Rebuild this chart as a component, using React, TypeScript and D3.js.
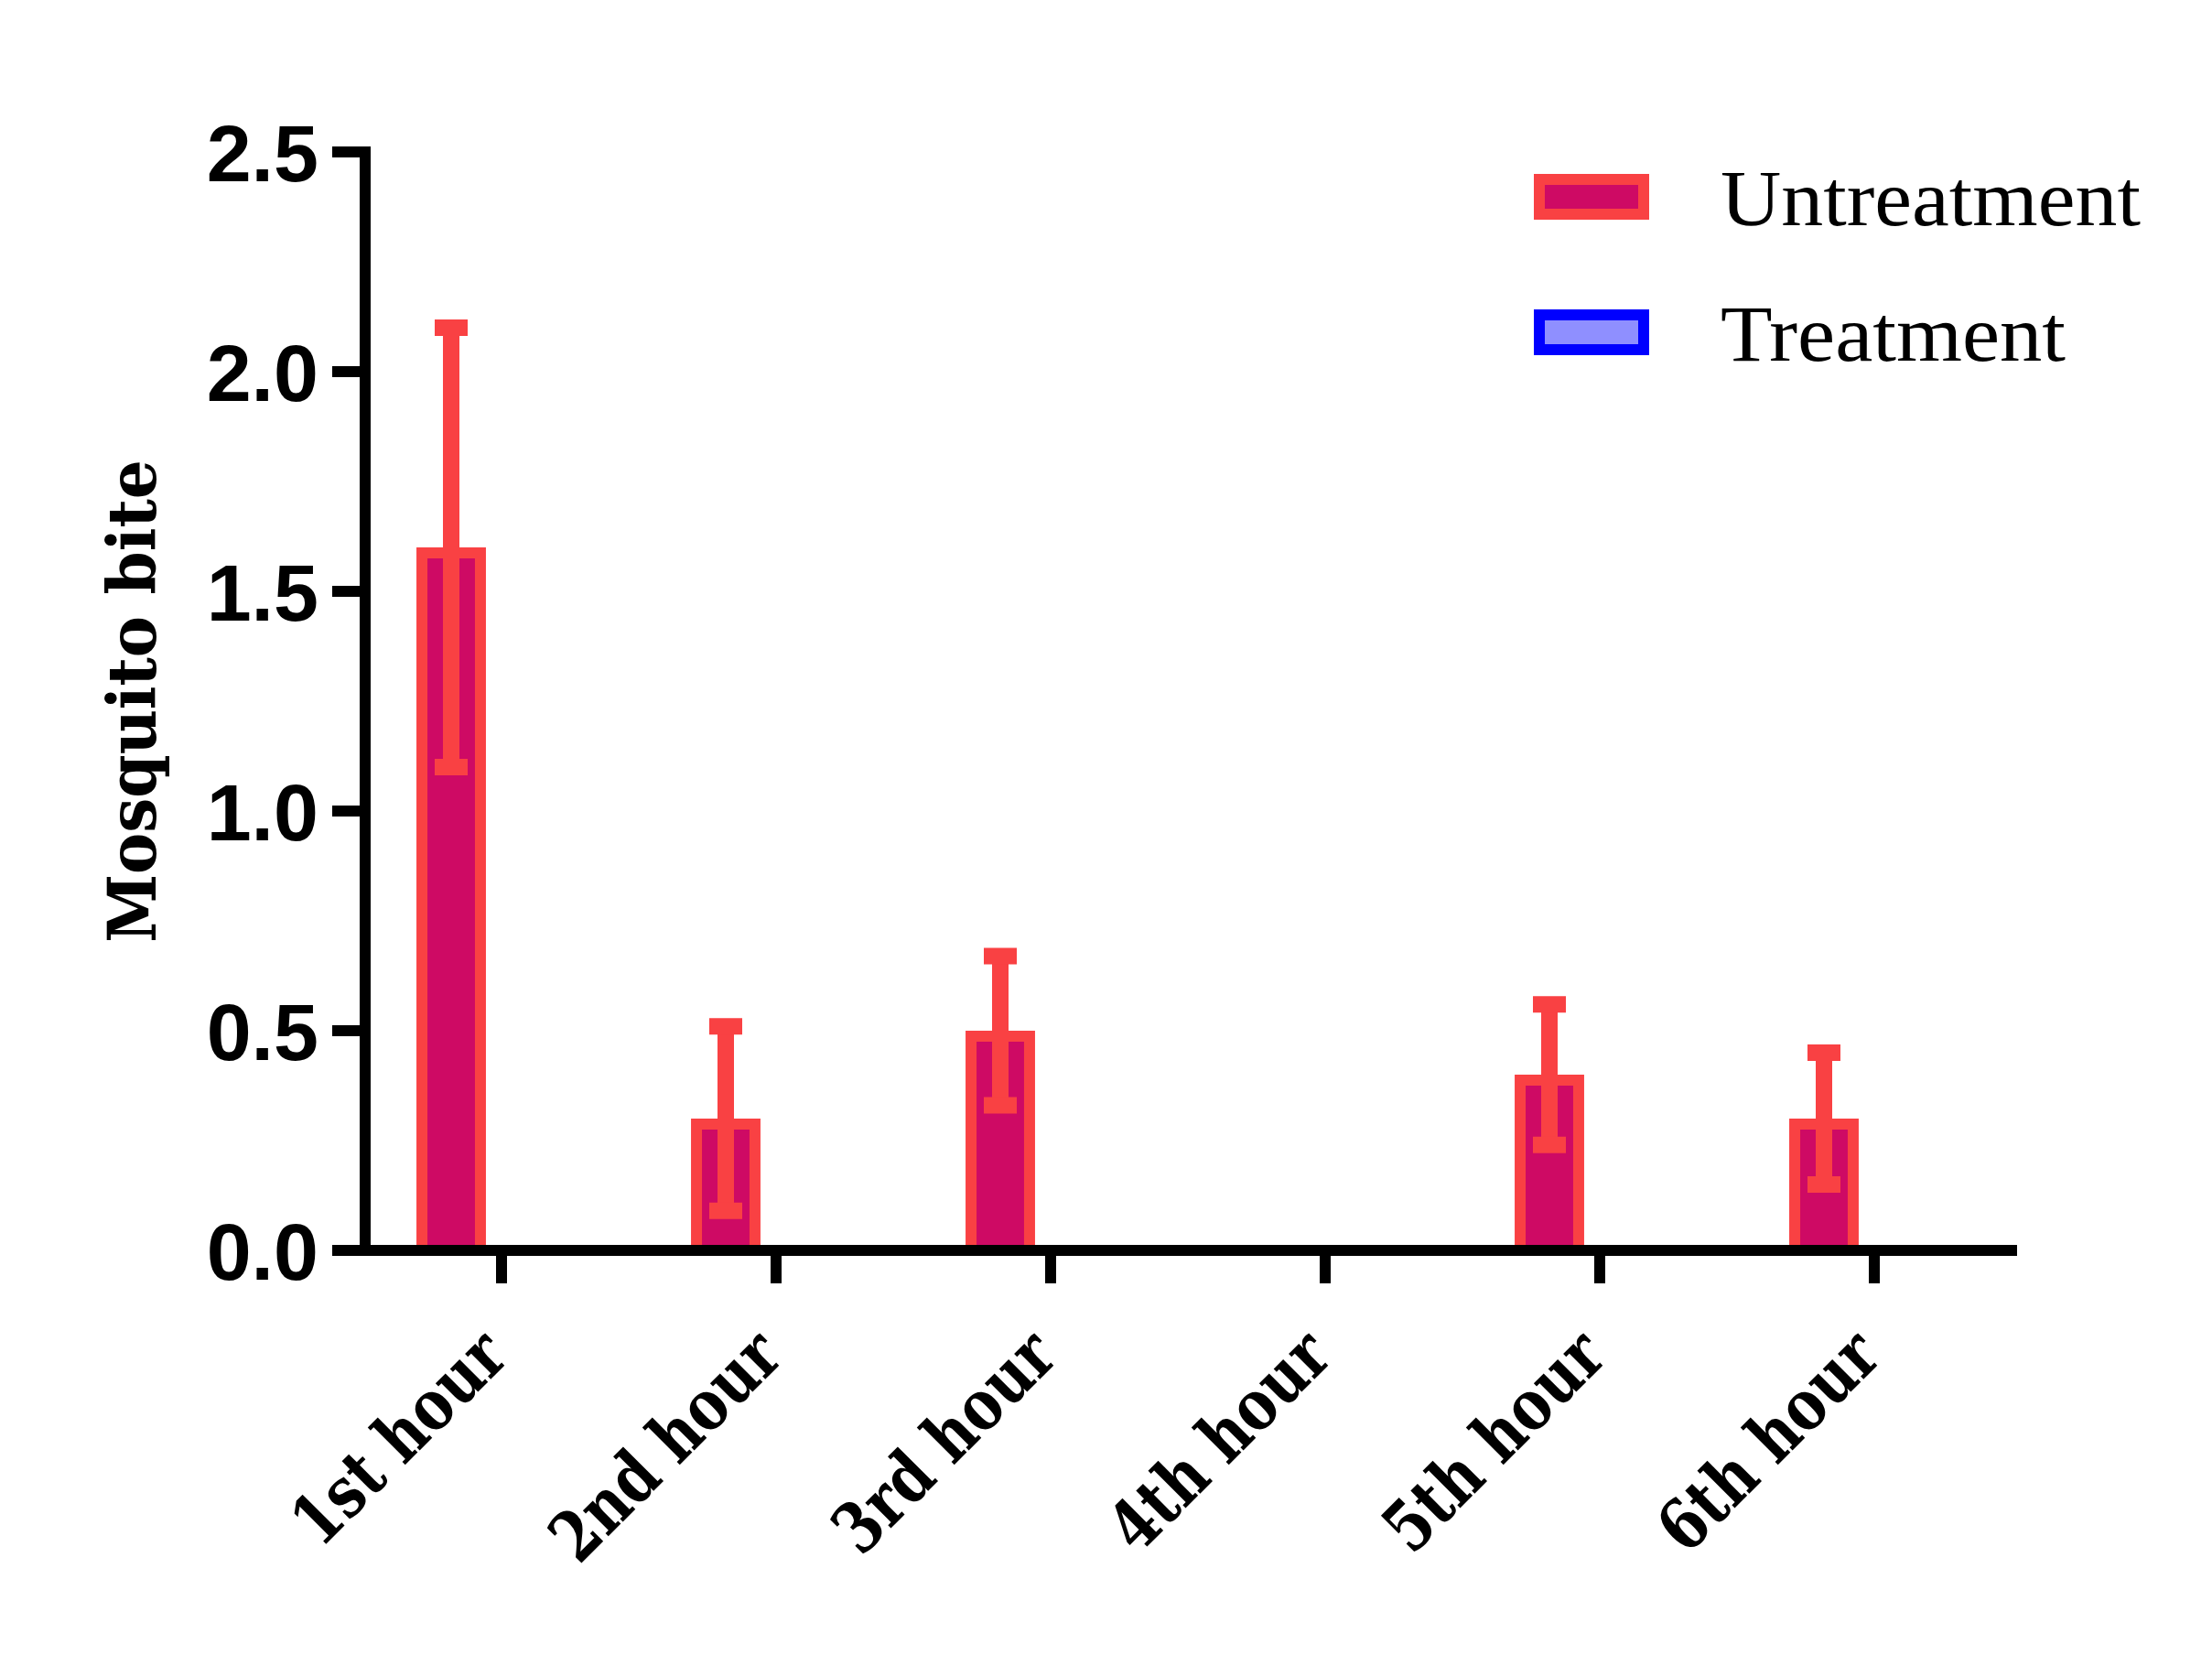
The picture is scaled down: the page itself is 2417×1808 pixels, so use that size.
import { useEffect, useRef } from 'react';
import * as d3 from 'd3';

const categories = ['1st hour', '2nd hour', '3rd hour', '4th hour', '5th hour', '6th hour'];
const seriesNames = ['Untreatment', 'Treatment'];
const untreatment = [1.6, 0.3, 0.5, 0, 0.4, 0.3];
const untreatmentErr = [0.5, 0.21, 0.17, 0, 0.16, 0.15];
const treatment = [0, 0, 0, 0, 0, 0];
const treatmentErr = [0, 0, 0, 0, 0, 0];
const yTicks = [0, 0.5, 1.0, 1.5, 2.0, 2.5];

const W = 2417;
const H = 1808;

const colors: Record<string, { fill: string; stroke: string }> = {
  Untreatment: { fill: '#ce0a64', stroke: '#f94143' },
  Treatment: { fill: '#8f8fff', stroke: '#0000ff' },
};

export default function App() {
  const svgRef = useRef<SVGSVGElement>(null);

  useEffect(() => {
    document.body.style.margin = '0';
    if (!svgRef.current) return;
    const svg = d3.select(svgRef.current);
    svg.selectAll('*').remove();

    const y = d3.scaleLinear().domain([0, 2.5]).range([1366, 166]);
    const x0 = d3.scaleBand<string>().domain(categories).range([398, 2198]).padding(0);
    const x1 = d3.scaleBand<string>().domain(seriesNames).range([40, 260]).paddingInner(0.31).paddingOuter(0.155);

    const rows = categories.flatMap((c, i) => [
      { cat: c, s: 'Untreatment', v: untreatment[i], e: untreatmentErr[i] },
      { cat: c, s: 'Treatment', v: treatment[i], e: treatmentErr[i] },
    ]);

    svg.append('rect').attr('width', W).attr('height', H).attr('fill', '#fff');

    // Bars (stroke kept inside the value)
    const sw = 12;
    svg.append('g')
      .selectAll('rect')
      .data(rows.filter((d) => d.v > 0))
      .join('rect')
      .attr('x', (d) => x0(d.cat)! + x1(d.s)! + sw / 2)
      .attr('y', (d) => y(d.v) + sw / 2)
      .attr('width', x1.bandwidth() - sw)
      .attr('height', (d) => y(0) - y(d.v) - sw / 2)
      .attr('fill', (d) => colors[d.s].fill)
      .attr('stroke', (d) => colors[d.s].stroke)
      .attr('stroke-width', sw);

    // Error bars
    const eb = svg.append('g');
    rows.filter((d) => d.e > 0).forEach((d) => {
      const cx = x0(d.cat)! + x1(d.s)! + x1.bandwidth() / 2;
      const st = colors[d.s].stroke;
      eb.append('line')
        .attr('x1', cx).attr('x2', cx)
        .attr('y1', y(d.v - d.e)).attr('y2', y(d.v + d.e))
        .attr('stroke', st).attr('stroke-width', 18);
      [d.v - d.e, d.v + d.e].forEach((t) => {
        eb.append('line')
          .attr('x1', cx - 18).attr('x2', cx + 18)
          .attr('y1', y(t)).attr('y2', y(t))
          .attr('stroke', st).attr('stroke-width', 18);
      });
    });

    // Axes
    const ax = svg.append('g').attr('stroke', '#000').attr('stroke-width', 12);
    ax.append('line').attr('x1', 399).attr('x2', 399).attr('y1', y(2.5) - 6).attr('y2', y(0));
    ax.selectAll('.yt')
      .data(yTicks)
      .join('line')
      .attr('x1', 363).attr('x2', 399)
      .attr('y1', (d) => y(d)).attr('y2', (d) => y(d));
    ax.append('line').attr('x1', 363).attr('x2', 2204).attr('y1', y(0)).attr('y2', y(0));
    ax.selectAll('.xt')
      .data(categories)
      .join('line')
      .attr('x1', (d) => x0(d)! + x0.bandwidth() / 2)
      .attr('x2', (d) => x0(d)! + x0.bandwidth() / 2)
      .attr('y1', y(0)).attr('y2', y(0) + 36);

    svg.append('g')
      .selectAll('text')
      .data(yTicks)
      .join('text')
      .attr('x', 348)
      .attr('y', (d) => y(d))
      .attr('dy', '0.36em')
      .attr('text-anchor', 'end')
      .attr('font-family', 'Liberation Sans, Arial, sans-serif')
      .attr('font-weight', 700)
      .attr('font-size', 88)
      .text((d) => d3.format('.1f')(d));

    svg.append('g')
      .selectAll('text')
      .data(categories)
      .join('text')
      .attr('transform', (d) => `translate(${x0(d)! + x0.bandwidth() / 2 + 10},1485) rotate(-45) scale(0.82,1)`)
      .attr('text-anchor', 'end')
      .attr('font-family', 'DejaVu Serif, serif')
      .attr('font-weight', 700)
      .attr('font-size', 76)
      .text((d) => d);

    svg.append('text')
      .attr('transform', `translate(170,${(y(0) + y(2.5)) / 2}) rotate(-90) scale(0.94,1)`)
      .attr('text-anchor', 'middle')
      .attr('font-family', 'DejaVu Serif, serif')
      .attr('font-weight', 700)
      .attr('font-size', 72)
      .text('Mosquito bite');

    // Legend
    const lg = svg.append('g');
    seriesNames.forEach((s, i) => {
      const top = 190 + i * 148;
      lg.append('rect')
        .attr('x', 1682).attr('y', top + 6)
        .attr('width', 114).attr('height', 38)
        .attr('fill', colors[s].fill)
        .attr('stroke', colors[s].stroke)
        .attr('stroke-width', 12);
      lg.append('text')
        .attr('x', 1880).attr('y', top + 56)
        .attr('font-family', 'Liberation Serif, serif')
        .attr('font-size', 86)
        .attr('textLength', s === 'Untreatment' ? 459 : 377)
        .attr('lengthAdjust', 'spacingAndGlyphs')
        .text(s);
    });
  }, []);

  return <svg ref={svgRef} width={W} height={H} style={{ display: 'block' }} />;
}
